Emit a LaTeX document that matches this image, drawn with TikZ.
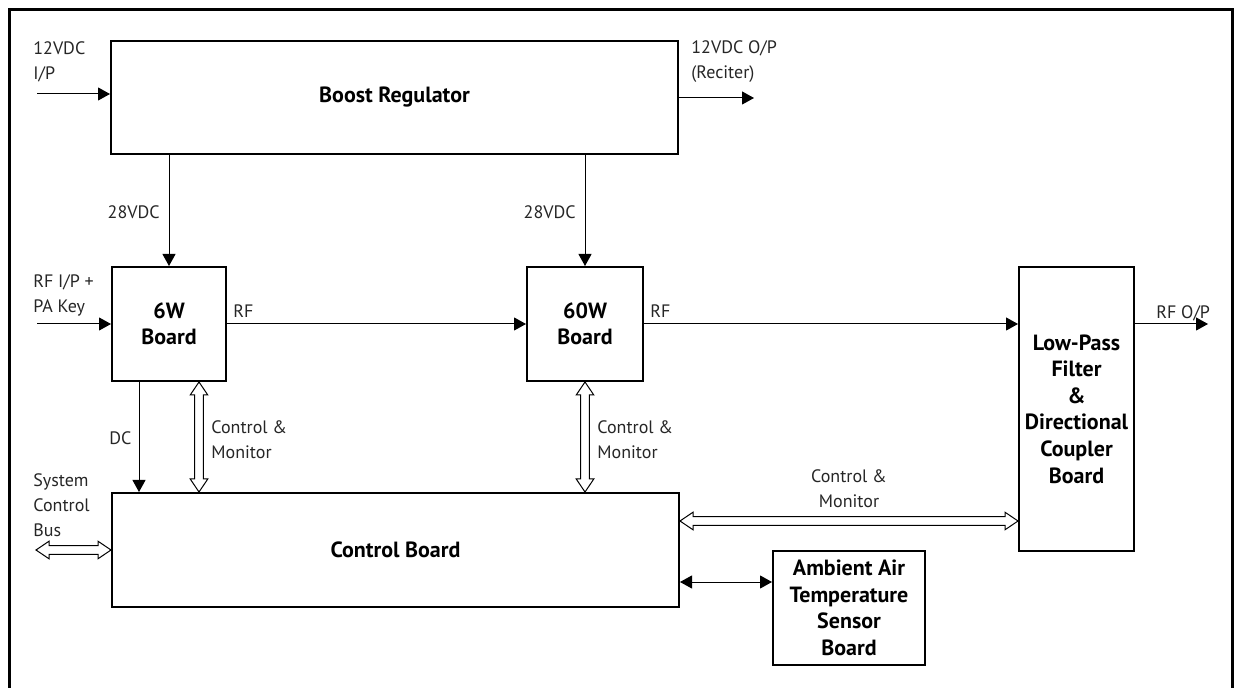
\documentclass[tikz,border=0pt]{standalone}
\usepackage{fontspec}
\setmainfont{PT Sans}
\usetikzlibrary{arrows.meta,calc}

\begin{document}
\begin{tikzpicture}[x=0.5pt, y=-0.5pt, font=\fontsize{9}{12.5}\selectfont,
  block/.style={rectangle, draw, line width=1pt, align=center, inner sep=0pt, font=\fontsize{11}{13.3}\selectfont\bfseries},
  wire/.style={line width=0.5pt},
  bus/.style={draw, fill=white, line width=0.5pt},
  lbl/.style={anchor=west, align=left, inner sep=0pt, text=black!85},
  >={Triangle[length=6pt, width=6.5pt]}]
\def\busv#1#2{\draw[bus] let \p1=(#1), \p2=(#2) in (\x1,\y1) -- ++(4.4pt,-6.5pt) -- ++(-2.2pt,0pt) -- (\x1+2.2pt,\y2+6.5pt) -- ++(2.2pt,0pt) -- (\x2,\y2) -- ++(-4.4pt,6.5pt) -- ++(2.2pt,0pt) -- (\x1-2.2pt,\y1-6.5pt) -- ++(-2.2pt,0pt) -- cycle;}
\def\bush#1#2{\draw[bus] let \p1=(#1), \p2=(#2) in (\x1,\y1) -- ++(6.5pt,4.4pt) -- ++(0pt,-2.2pt) -- (\x2-6.5pt,\y1+2.2pt) -- ++(0pt,2.2pt) -- (\x2,\y2) -- ++(-6.5pt,-4.4pt) -- ++(0pt,2.2pt) -- (\x1+6.5pt,\y1-2.2pt) -- ++(0pt,-2.2pt) -- cycle;}
\useasboundingbox (0,0) rectangle (1234,688);
% frame, open at the foot
\draw[line width=1.5pt] (9,688) -- (9,10) -- (1232,10) -- (1232,688);

% blocks
\node[block, minimum width=283.5pt, minimum height=56.5pt] (boost) at (394.5,97.5) {Boost Regulator};
\node[block, minimum width=57pt, minimum height=57pt] (sixw) at (169,324) {6W\\Board};
\node[block, minimum width=58pt, minimum height=57pt] (sixtyw) at (585,324) {60W\\Board};
\node[block, minimum width=57.5pt, minimum height=142pt] (lpf) at (1076.5,409) {Low-Pass\\Filter\\\&\\Directional\\Coupler\\Board};
\node[block, minimum width=283.5pt, minimum height=57pt] (ctrl) at (395.5,550) {Control Board};
\node[block, minimum width=76pt, minimum height=57pt] (amb) at (849,608) {Ambient Air\\Temperature\\Sensor\\Board};

% supply
\coordinate (vin) at (37,94);
\coordinate (vout) at (754,98);
\draw[wire,->] (vin) -- (vin -| boost.west);
\draw[wire,->] (vout -| boost.east) -- (vout);
\draw[wire,->] (sixw.north |- boost.south) -- (sixw.north);
\draw[wire,->] (sixtyw.north |- boost.south) -- (sixtyw.north);

% rf path
\coordinate (rfin) at (37,324);
\coordinate (rfout) at (1208,324);
\draw[wire,->] (rfin) -- (sixw.west);
\draw[wire,->] (sixw.east) -- (sixtyw.west);
\draw[wire,->] (sixtyw.east) -- (sixtyw.east -| lpf.west);
\draw[wire,->] (rfout -| lpf.east) -- (rfout);

% dc and control links
\coordinate (dc) at (139,0);
\coordinate (cm6) at (199,0);
\coordinate (cmbus) at (0,521);
\coordinate (sysbus) at (36,550);
\coordinate (amblink) at (0,582);
\draw[wire,->] (dc |- sixw.south) -- (dc |- ctrl.north);
\busv{cm6 |- sixw.south}{cm6 |- ctrl.north}
\busv{sixtyw.south}{sixtyw.south |- ctrl.north}
\bush{cmbus -| ctrl.east}{cmbus -| lpf.west}
\bush{sysbus}{sysbus -| ctrl.west}
\draw[wire,<->] (amblink -| ctrl.east) -- (amblink -| amb.west);

% labels
\node[lbl] (inlbl) at (33,62) {12VDC\\I/P};
\node[lbl] (outlbl) at (691,62) {12VDC O/P\\(Reciter)};
\node[lbl, anchor=east] (v28a) at (160,212) {28VDC};
\node[lbl, anchor=east] (v28b) at (576,212) {28VDC};
\node[lbl] (rfinlbl) at (33,295) {RF I/P +\\PA Key};
\node[lbl] (rf1) at (233,311) {RF};
\node[lbl] (rf2) at (650,311) {RF};
\node[lbl] (rfoutlbl) at (1156,313) {RF O/P};
\node[lbl] (dclbl) at (109,438) {DC};
\node[lbl] (cm1) at (211,440) {Control \&\\Monitor};
\node[lbl] (cm2) at (597,440) {Control \&\\Monitor};
\node[lbl, anchor=center, align=center] (cm3) at (849,489) {Control \&\\Monitor};
\node[lbl] (syslbl) at (33,505) {System\\Control\\Bus};
\end{tikzpicture}
\end{document}
